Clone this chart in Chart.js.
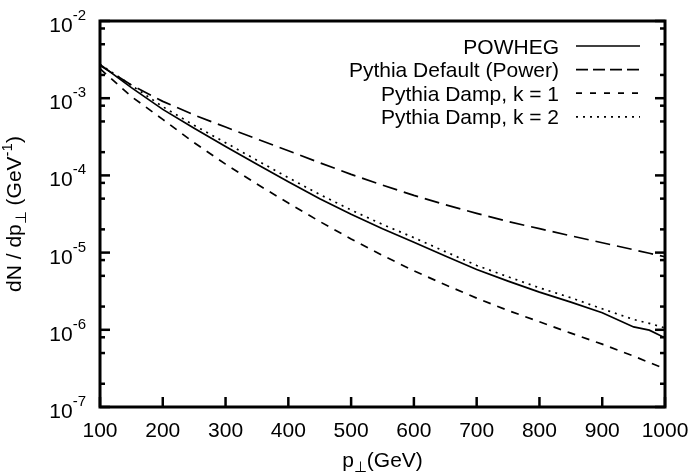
<!DOCTYPE html>
<html>
<head>
<meta charset="utf-8">
<script src="https://cdn.jsdelivr.net/npm/chart.js@4.4.1/dist/chart.umd.min.js"></script>
<style>
    html, body { margin: 0; padding: 0; background: #fff; }
    #wrap { width: 694px; height: 474px; }
</style>
</head>
<body>
<div id="wrap"><canvas id="pt-chart" width="694" height="474"></canvas></div>
<script>
// p_T sampling points (GeV)
const ptValues = [100, 150, 200, 250, 300, 350, 400, 450, 500, 550, 600, 650, 700, 750, 800, 850, 900, 950, 975, 1000];

// dN/dp_T
const powheg = [2.74e-3, 1.37e-3, 7.17e-4, 4.07e-4, 2.37e-4, 1.39e-4, 8.25e-5, 5.00e-5, 3.14e-5, 2.04e-5,
    1.36e-5, 9.01e-6, 6.05e-6, 4.27e-6, 3.08e-6, 2.28e-6, 1.66e-6, 1.09e-6, 9.9e-7, 7.87e-7];
const pythiaDefault = [2.66e-3, 1.48e-3, 9.10e-4, 6.05e-4, 4.23e-4, 2.96e-4, 2.09e-4, 1.46e-4, 1.03e-4, 7.49e-5,
    5.51e-5, 4.17e-5, 3.22e-5, 2.53e-5, 2.04e-5, 1.65e-5, 1.34e-5, 1.09e-5, 9.80e-6, 8.83e-6];
const pythiaDampK1 = [2.41e-3, 1.05e-3, 5.32e-4, 2.65e-4, 1.40e-4, 7.72e-5, 4.38e-5, 2.53e-5, 1.50e-5, 9.19e-6,
    5.81e-6, 3.83e-6, 2.57e-6, 1.78e-6, 1.27e-6, 9.05e-7, 6.52e-7, 4.56e-7, 3.77e-7, 3.12e-7];
const pythiaDampK2 = [2.74e-3, 1.47e-3, 7.76e-4, 4.45e-4, 2.65e-4, 1.57e-4, 9.33e-5, 5.67e-5, 3.56e-5, 2.32e-5,
    1.56e-5, 1.03e-5, 6.82e-6, 4.86e-6, 3.50e-6, 2.60e-6, 1.87e-6, 1.36e-6, 1.21e-6, 1.06e-6];

const seriesLabels = ['POWHEG', 'Pythia Default (Power)', 'Pythia Damp, k = 1', 'Pythia Damp, k = 2'];

// axis ticks
const xTickValues = [100, 200, 300, 400, 500, 600, 700, 800, 900, 1000];
const yDecadeExps = [-7, -6, -5, -4, -3, -2];
const yMinorMults = [2, 5, 8];

const FONT = "'Liberation Sans', Arial, sans-serif";

const ChartPt = (() => {
    let _chart = null;

    // draw text made of pieces (normal / sup / sub), aligned on a common baseline
    function drawRich(c, parts, x, y, align) {
        let total = 0;
        parts.forEach(p => {
            c.font = `${p.size}px ${FONT}`;
            p.w = c.measureText(p.text).width;
            total += p.w;
        });
        let cx = x;
        if (align === 'center') cx = x - total / 2;
        if (align === 'right') cx = x - total;
        c.textAlign = 'left';
        c.textBaseline = 'alphabetic';
        parts.forEach(p => {
            c.font = `${p.size}px ${FONT}`;
            c.fillText(p.text, cx, y + (p.dy || 0));
            cx += p.w;
        });
    }

    function line(c, x1, y1, x2, y2) {
        c.beginPath();
        c.moveTo(x1, y1);
        c.lineTo(x2, y2);
        c.stroke();
    }

    const framePlugin = {
        id: 'gnuFrame',
        afterDatasetsDraw: (chart) => {
            const { ctx: c, chartArea: a, scales: { x, y } } = chart;
            c.save();
            c.strokeStyle = '#000';
            c.fillStyle = '#000';
            c.setLineDash([]);
            c.lineCap = 'butt';

            // ticks
            c.lineWidth = 2.5;
            xTickValues.forEach(v => {
                const px = x.getPixelForValue(v);
                line(c, px, a.bottom, px, a.bottom - 10);
            });
            yDecadeExps.forEach(e => {
                const py = y.getPixelForValue(Math.pow(10, e));
                line(c, a.left, py, a.left + 10, py);
                line(c, a.right, py, a.right - 10, py);
                if (e < -2) {
                    yMinorMults.forEach(m => {
                        const pm = y.getPixelForValue(m * Math.pow(10, e));
                        line(c, a.left, pm, a.left + 5, pm);
                        line(c, a.right, pm, a.right - 5, pm);
                    });
                }
            });

            // frame
            c.lineWidth = 3;
            c.strokeRect(a.left, a.top, a.right - a.left, a.bottom - a.top);

            // tick labels
            xTickValues.forEach(v => {
                drawRich(c, [{ text: String(v), size: 21 }], x.getPixelForValue(v), a.bottom + 30, 'center');
            });
            yDecadeExps.forEach(e => {
                const py = y.getPixelForValue(Math.pow(10, e));
                drawRich(c, [
                    { text: '10', size: 21 },
                    { text: String(e), size: 15, dy: -12 },
                ], a.left - 14, py + 11, 'right');
            });

            // axis titles
            drawRich(c, [
                { text: 'p', size: 21 },
                { text: '\u22A5', size: 15, dy: 5 },
                { text: '(GeV)', size: 21 },
            ], (a.left + a.right) / 2, 467, 'center');

            c.save();
            c.translate(21, (a.top + a.bottom) / 2);
            c.rotate(-Math.PI / 2);
            drawRich(c, [
                { text: 'dN / dp', size: 21 },
                { text: '\u22A5', size: 15, dy: 5 },
                { text: ' (GeV', size: 21 },
                { text: '-1', size: 15, dy: -9 },
                { text: ')', size: 21 },
            ], 0, 0, 'center');
            c.restore();

            // key
            const keyDash = [[], [12, 5], [6, 8], [2, 5]];
            chart.data.datasets.forEach((ds, i) => {
                const ky = 46 + i * 23.6;
                drawRich(c, [{ text: ds.label, size: 21 }], 559, ky + 7.5, 'right');
                c.lineWidth = 1.7;
                c.setLineDash(keyDash[i]);
                line(c, 576, ky, 640, ky);
            });
            c.restore();
        },
    };

    function render() {
        const series = [powheg, pythiaDefault, pythiaDampK1, pythiaDampK2];
        const dashes = [[], [15, 7], [8, 7], [2, 5]];
        const datasets = series.map((vals, i) => ({
            label: seriesLabels[i],
            data: ptValues.map((pt, j) => ({ x: pt, y: vals[j] })),
            borderColor: '#000',
            borderWidth: 1.7,
            borderDash: dashes[i],
            pointRadius: 0,
            tension: 0,
            fill: false,
        }));

        const ctx = document.getElementById('pt-chart').getContext('2d');
        if (_chart) _chart.destroy();

        _chart = new Chart(ctx, {
            type: 'line',
            data: { datasets },
            options: {
                responsive: false,
                animation: false,
                devicePixelRatio: 1,
                layout: { padding: { left: 100, top: 21, right: 29, bottom: 67 } },
                plugins: {
                    legend: { display: false },
                    tooltip: { enabled: false },
                },
                scales: {
                    x: { type: 'linear', min: 100, max: 1000, display: false },
                    y: { type: 'logarithmic', min: 1e-7, max: 1e-2, display: false },
                },
            },
            plugins: [framePlugin],
        });
    }

    return { render };
})();

ChartPt.render();
</script>
</body>
</html>
